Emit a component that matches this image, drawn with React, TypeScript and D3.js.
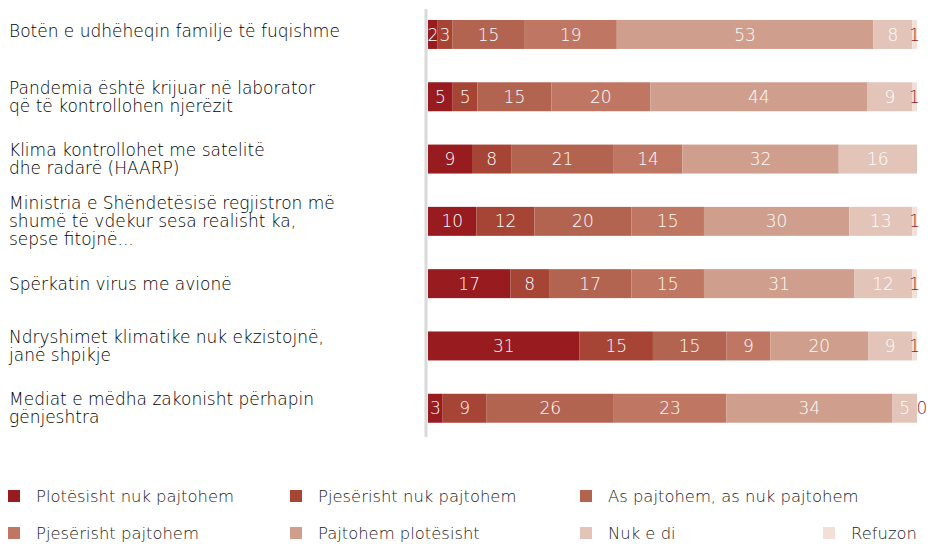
import React, { useEffect, useRef } from 'react';
import * as d3 from 'd3';

// statements, one row each (lines split as in the source)
const statements: string[][] = [
  ['Botën e udhëheqin familje të fuqishme'],
  ['Pandemia është krijuar në laborator', 'që të kontrollohen njerëzit'],
  ['Klima kontrollohet me satelitë', 'dhe radarë (HAARP)'],
  ['Ministria e Shëndetësisë regjistron më', 'shumë të vdekur sesa realisht ka,', 'sepse fitojnë...'],
  ['Spërkatin virus me avionë'],
  ['Ndryshimet klimatike nuk ekzistojnë,', 'janë shpikje'],
  ['Mediat e mëdha zakonisht përhapin', 'gënjeshtra'],
];

const answers = [
  'Plotësisht nuk pajtohem',
  'Pjesërisht nuk pajtohem',
  'As pajtohem,  as nuk pajtohem',
  'Pjesërisht pajtohem',
  'Pajtohem plotësisht',
  'Nuk e di',
  'Refuzon',
];

const colors = ['#981b1f', '#a64535', '#b36451', '#bf7763', '#d09e8c', '#e3c4b8', '#f1dfd8'];

// percentages per answer, in row order
const plotesishtNuk = [2, 5, 9, 10, 17, 31, 3];
const pjeserishtNuk = [3, 5, 8, 12, 8, 15, 9];
const asAs = [15, 15, 21, 20, 17, 15, 26];
const pjeserishtPo = [19, 20, 14, 15, 15, 9, 23];
const plotesishtPo = [53, 44, 32, 30, 31, 20, 34];
const nukEDi = [8, 9, 16, 13, 12, 9, 5];
const refuzon = [1, 1, 0, 1, 1, 1, 0];
const hasRefuzon = [true, true, false, true, true, true, true];

const series = [plotesishtNuk, pjeserishtNuk, asAs, pjeserishtPo, plotesishtPo, nukEDi, refuzon];

const App = () => {
  const ref = useRef<SVGSVGElement>(null);

  useEffect(() => {
    const width = 933;
    const height = 544;
    const svg = d3.select(ref.current);
    svg.selectAll('*').remove();
    svg.attr('width', width).attr('height', height);

    const font = '"DejaVu Sans", sans-serif';

    const rows = statements.map((s, i) => {
      const r: any = { id: i };
      answers.forEach((a, j) => { r[a] = series[j][i]; });
      return r;
    });

    const stacked = d3.stack().keys(answers).offset(d3.stackOffsetExpand)(rows);

    const x = d3.scaleLinear().domain([0, 1]).range([428, 917]);
    const y = d3.scaleBand<number>()
      .domain(rows.map(r => r.id))
      .range([3.3, 439.4])
      .paddingInner(0.535)
      .paddingOuter(0.2675);

    // bars
    stacked.forEach((layer, j) => {
      const g = svg.append('g');
      g.selectAll('rect')
        .data(layer)
        .join('rect')
        .attr('x', d => x(d[0]))
        .attr('y', (d: any) => y(d.data.id)!)
        .attr('width', d => x(d[1]) - x(d[0]))
        .attr('height', y.bandwidth())
        .attr('fill', colors[j]);

      g.selectAll('text')
        .data(layer.filter((d: any) => j < 6 ? d.data[answers[j]] > 0 : hasRefuzon[d.data.id]))
        .join('text')
        .attr('x', (d: any) => {
          const v = d.data[answers[j]];
          return v === 0 ? x(d[0]) + 5 : (x(d[0]) + x(d[1])) / 2;
        })
        .attr('y', (d: any) => y(d.data.id)! + y.bandwidth() / 2)
        .attr('dy', '0.36em')
        .attr('text-anchor', 'middle')
        .style('font-family', font)
        .style('font-size', '17px')
        .style('font-weight', 200)
        .style('fill', j === 6 ? '#981b1f' : '#ffffff')
        .text((d: any) => d.data[answers[j]]);
    });

    // axis line
    svg.append('line')
      .attr('x1', 426).attr('x2', 426)
      .attr('y1', 9).attr('y2', 437)
      .attr('stroke', '#d9d9d9')
      .attr('stroke-width', 3);

    // category labels (first one sits a bit higher in the source)
    const lh = 18;
    const shift = [-4, 0, 0, 0, 0, 0, 0];
    statements.forEach((lines, i) => {
      const cy = y(i)! + y.bandwidth() / 2 + shift[i];
      const t = svg.append('text')
        .style('font-family', font)
        .style('font-size', '17px')
        .style('font-weight', 200)
        .style('fill', '#000');
      lines.forEach((l, k) => {
        t.append('tspan')
          .attr('x', 9)
          .attr('y', cy + (k - (lines.length - 1) / 2) * lh)
          .attr('dy', '0.36em')
          .text(l);
      });
    });

    // legend
    const legendX = [8, 290, 580, 823];
    const legendPos = [[0, 0], [1, 0], [2, 0], [0, 1], [1, 1], [2, 1], [3, 1]];
    answers.forEach((a, j) => {
      const [c, r] = legendPos[j];
      const lx = legendX[c];
      const ly = 496 + r * 37;
      svg.append('rect')
        .attr('x', lx).attr('y', ly - 6)
        .attr('width', 12).attr('height', 12)
        .attr('fill', colors[j]);
      svg.append('text')
        .attr('x', lx + 28).attr('y', ly)
        .attr('dy', '0.36em')
        .style('font-family', font)
        .style('font-size', '16.4px')
        .style('font-weight', 200)
        .style('fill', '#222')
        .text(a);
    });
  }, []);

  return (
    <div style={{ position: 'absolute', left: 0, top: 0 }}>
      <svg ref={ref} style={{ display: 'block' }} />
    </div>
  );
};

export default App;
